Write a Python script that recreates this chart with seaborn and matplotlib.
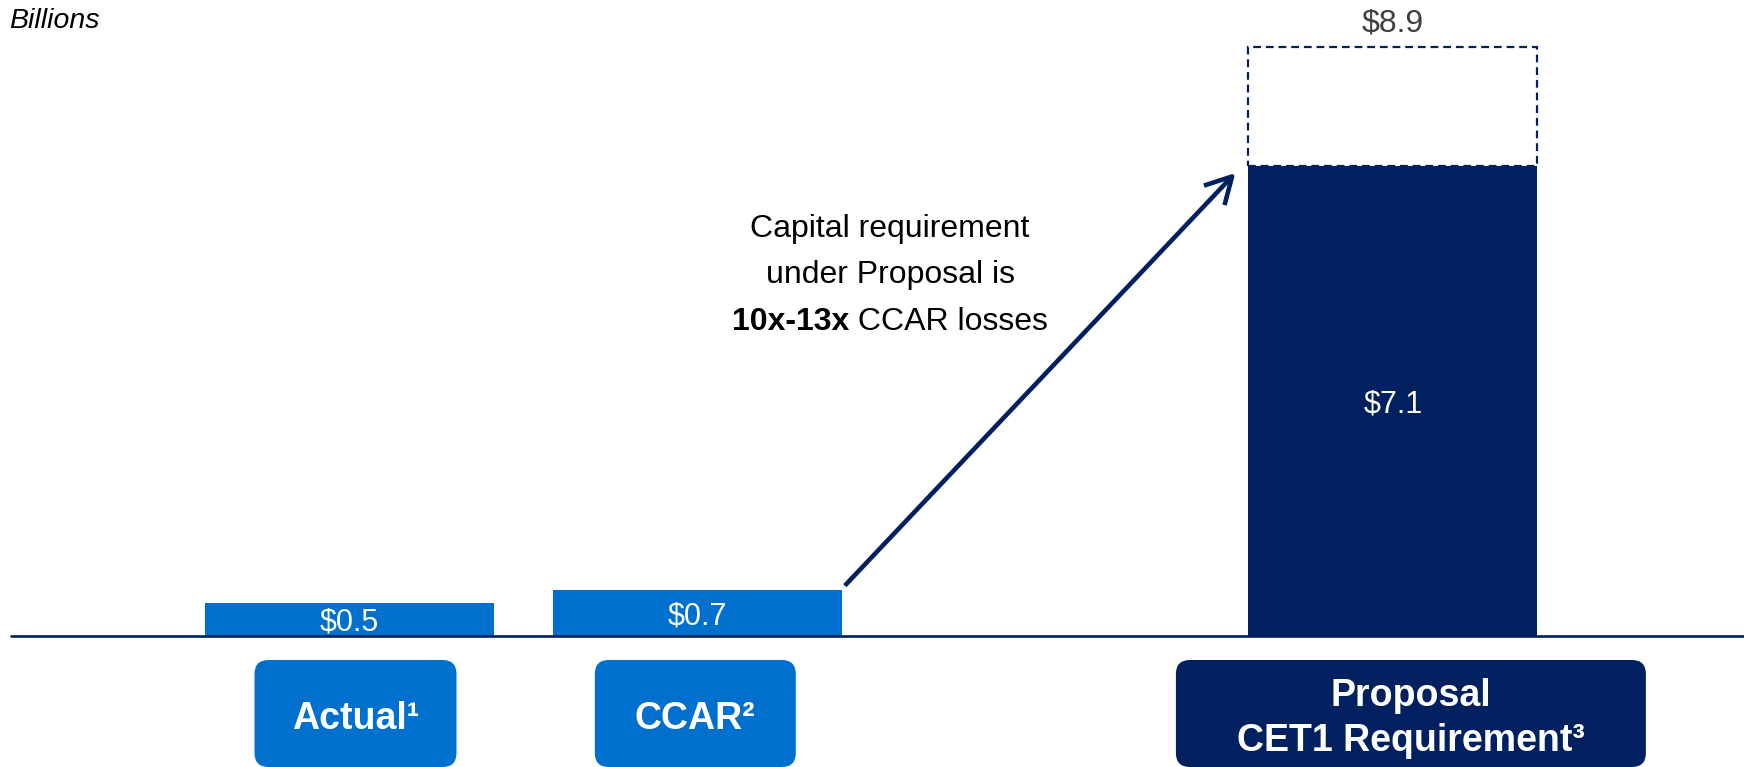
import matplotlib
matplotlib.use("Agg")
import matplotlib.pyplot as plt
from matplotlib.patches import FancyBboxPatch
import pandas as pd
import seaborn as sns

# ---- data -------------------------------------------------------------
categories = ["Actual", "CCAR", "Proposal CET1 Requirement"]
box_labels = [["Actual¹"], ["CCAR²"], ["Proposal", "CET1 Requirement³"]]
values = [0.5, 0.7, 7.1]
value_labels = ["$0.5", "$0.7", "$7.1"]
proposal_high = 8.9
high_label = "$8.9"
unit_label = "Billions"
callout_lines = ["Capital requirement", "under Proposal is"]
callout_bold = "10x-13x"
callout_rest = " CCAR losses"

# ---- style / layout ---------------------------------------------------
BLUE = "#0070CE"
NAVY = "#002060"
GREY = "#404040"

W, H, DPI = 1744, 767, 100
STEP_PX = 347.8   # pixels between neighbouring category slots
UNIT_PX = 66.2    # pixels per billion
X0_PX = 349.5     # pixel column of the first slot
Y0_PX = 636       # pixel row of the zero line
BAR_W = 0.831

box_width_px = [202, 201, 470]
box_shift_px = [6, -2, 18]
box_top_px, box_bottom_px, box_radius_px = 660, 767, 14
box_baselines_px = [[729], [729], [706, 751]]
callout_x_px = 890
callout_baselines_px = [237, 283, 330]

sns.set_style("white")
plt.rcParams["font.family"] = ["Liberation Sans", "DejaVu Sans"]

fig = plt.figure(figsize=(W / DPI, H / DPI), dpi=DPI)
ax = fig.add_axes([0, 0, 1, 1])

order = ["Actual", "CCAR", "", "Proposal CET1 Requirement"]
df = pd.DataFrame({"category": categories, "value": values})
sns.barplot(data=df, x="category", y="value", order=order,
            hue="category", hue_order=categories,
            palette=[BLUE, BLUE, NAVY], width=BAR_W, dodge=False,
            saturation=1, legend=False, errorbar=None,
            linewidth=0, edgecolor="none", ax=ax, zorder=2)

xlim = (-X0_PX / STEP_PX, (W - X0_PX) / STEP_PX)
ylim = (-(H - Y0_PX) / UNIT_PX, Y0_PX / UNIT_PX)
ax.set_xlim(*xlim)
ax.set_ylim(*ylim)
ax.axis("off")


def row(py):
    return (Y0_PX - py) / UNIT_PX


pos = [order.index(c) for c in categories]
p_prop = pos[2]

# upper range of the proposal requirement (dashed outline)
ax.bar(p_prop, proposal_high - values[2], bottom=values[2], width=BAR_W,
       fill=False, edgecolor=NAVY, linewidth=1.6,
       linestyle=(0, (3.5, 2.2)), zorder=3)
ax.annotate(high_label, xy=(p_prop, proposal_high), xytext=(0, 23),
            textcoords="offset pixels", ha="center", va="center",
            color=GREY, fontsize=23)

# zero line
ax.axhline(0, xmin=11 / W, xmax=1, color=NAVY, linewidth=1.9, zorder=4)

# value labels inside bars
for p, v, lab in zip(pos, values, value_labels):
    ax.text(p, v / 2, lab, ha="center", va="center_baseline",
            color="white", fontsize=22, zorder=5)

# "Billions"
fig.text(9 / W, 1 - 21 / H, unit_label, ha="left", va="center",
         fontsize=20.5, style="italic", color="black")

# arrow from the CCAR bar to the proposal bar
start = (pos[1] + BAR_W / 2 + 3 / STEP_PX, values[1] + 4 / UNIT_PX)
end = (p_prop - BAR_W / 2 - 13 / STEP_PX, values[2] - 7 / UNIT_PX)
ax.annotate("", xy=end, xytext=start,
            arrowprops=dict(arrowstyle="->,head_length=1.1,head_width=0.6",
                            mutation_scale=17, lw=3.3, color=NAVY,
                            shrinkA=0, shrinkB=0, capstyle="butt"),
            zorder=4)

# callout text
cx = (callout_x_px - X0_PX) / STEP_PX
for line, by in zip(callout_lines, callout_baselines_px[:2]):
    ax.text(cx, row(by), line, ha="center", va="baseline",
            fontsize=23, color="black")
t_bold = ax.text(0, row(callout_baselines_px[2]), callout_bold,
                 ha="left", va="baseline", fontsize=23,
                 fontweight="bold", color="black")
t_rest = ax.text(0, row(callout_baselines_px[2]), callout_rest,
                 ha="left", va="baseline", fontsize=23, color="black")
renderer = fig.canvas.get_renderer()
wb = t_bold.get_window_extent(renderer).width
wr = t_rest.get_window_extent(renderer).width
left = cx - (wb + wr) / 2 / STEP_PX
t_bold.set_x(left)
t_rest.set_x(left + wb / STEP_PX)

# category label boxes
colors = [BLUE, BLUE, NAVY]
aspect = STEP_PX / UNIT_PX
for p, lines, bw, sh, bls, col in zip(pos, box_labels, box_width_px,
                                      box_shift_px, box_baselines_px, colors):
    cxb = p + sh / STEP_PX
    x0 = cxb - bw / 2 / STEP_PX
    y0 = row(box_bottom_px)
    box = FancyBboxPatch((x0, y0), bw / STEP_PX, row(box_top_px) - y0,
                         boxstyle=f"round,pad=0,rounding_size={box_radius_px / STEP_PX}",
                         mutation_aspect=aspect, facecolor=col,
                         edgecolor="none", zorder=3)
    ax.add_patch(box)
    for txt, by in zip(lines, bls):
        ax.text(cxb, row(by), txt, ha="center", va="baseline",
                fontsize=27, fontweight="bold", color="white", zorder=5)

fig.savefig("out.png", dpi=DPI)
